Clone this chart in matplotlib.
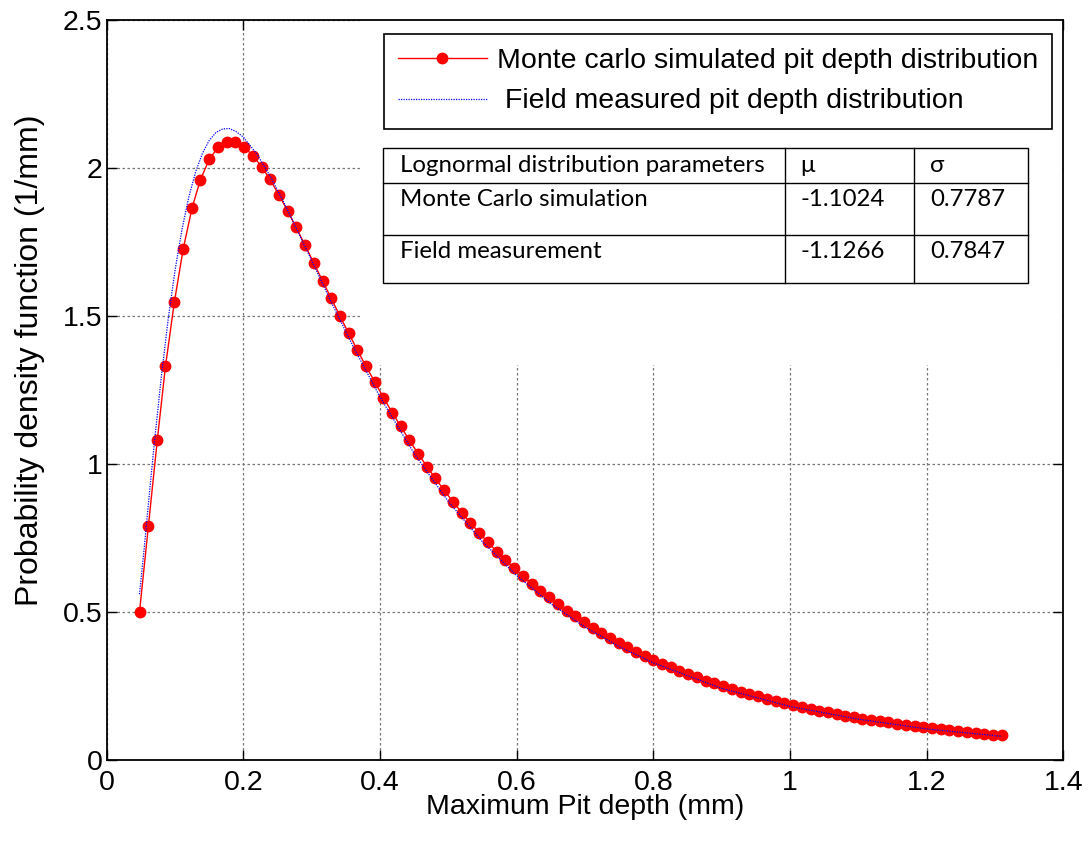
import matplotlib
matplotlib.use("Agg")
import matplotlib.pyplot as plt
from matplotlib.patches import Rectangle
from matplotlib.lines import Line2D

plt.rcParams['font.family'] = ['Liberation Sans', 'DejaVu Sans']

# Monte Carlo simulated pdf (red markers)
x_mc = [0.048, 0.061, 0.074, 0.086, 0.099, 0.112, 0.125, 0.137, 0.150, 0.163,
        0.176, 0.188, 0.201, 0.214, 0.227, 0.239, 0.252, 0.265, 0.277, 0.290,
        0.303, 0.316, 0.328, 0.341, 0.354, 0.367, 0.379, 0.392, 0.405, 0.418,
        0.430, 0.443, 0.456, 0.469, 0.481, 0.494, 0.507, 0.520, 0.532, 0.545,
        0.558, 0.571, 0.583, 0.596, 0.609, 0.622, 0.634, 0.647, 0.660, 0.673,
        0.685, 0.698, 0.711, 0.724, 0.736, 0.749, 0.762, 0.775, 0.787, 0.800,
        0.813, 0.826, 0.838, 0.851, 0.864, 0.877, 0.889, 0.902, 0.915, 0.928,
        0.940, 0.953, 0.966, 0.979, 0.991, 1.004, 1.017, 1.030, 1.042, 1.055,
        1.068, 1.081, 1.093, 1.106, 1.119, 1.132, 1.144, 1.157, 1.170, 1.183,
        1.195, 1.208, 1.221, 1.233, 1.246, 1.259, 1.272, 1.284, 1.297, 1.310]
y_mc = [0.500, 0.790, 1.080, 1.330, 1.547, 1.727, 1.866, 1.959, 2.029, 2.070,
        2.088, 2.087, 2.070, 2.042, 2.003, 1.961, 1.909, 1.854, 1.800, 1.740,
        1.679, 1.618, 1.562, 1.501, 1.442, 1.384, 1.332, 1.278, 1.224, 1.173,
        1.128, 1.080, 1.034, 0.990, 0.951, 0.911, 0.872, 0.835, 0.802, 0.768,
        0.735, 0.704, 0.677, 0.648, 0.621, 0.595, 0.572, 0.549, 0.526, 0.504,
        0.485, 0.466, 0.447, 0.429, 0.413, 0.396, 0.381, 0.366, 0.352, 0.339,
        0.325, 0.313, 0.302, 0.290, 0.279, 0.268, 0.259, 0.249, 0.240, 0.231,
        0.223, 0.215, 0.207, 0.200, 0.193, 0.186, 0.179, 0.173, 0.167, 0.161,
        0.156, 0.150, 0.146, 0.140, 0.136, 0.131, 0.127, 0.123, 0.118, 0.114,
        0.111, 0.107, 0.104, 0.101, 0.097, 0.094, 0.091, 0.088, 0.086, 0.083]

# field measured pdf (blue dotted line)
x_field = [0.048, 0.055, 0.062, 0.07, 0.08, 0.09, 0.10, 0.11, 0.12, 0.13,
           0.14, 0.15, 0.16, 0.17, 0.18, 0.19, 0.20, 0.22, 0.24, 0.26,
           0.28, 0.30, 0.33, 0.36, 0.40, 0.45, 0.50, 0.55, 0.60, 0.65,
           0.70, 0.75, 0.80, 0.90, 1.00, 1.10, 1.20, 1.31]
y_field = [0.560, 0.718, 0.889, 1.078, 1.296, 1.490, 1.654, 1.790, 1.900, 1.986,
           2.049, 2.093, 2.120, 2.132, 2.133, 2.122, 2.104, 2.046, 1.969, 1.880,
           1.784, 1.687, 1.540, 1.400, 1.226, 1.035, 0.873, 0.737, 0.623, 0.528,
           0.449, 0.383, 0.328, 0.242, 0.181, 0.138, 0.105, 0.080]

legend_labels = ["Monte carlo simulated pit depth distribution",
                 " Field measured pit depth distribution"]

table_rows = [["Lognormal distribution parameters", "\u03bc", "\u03c3"],
              ["Monte Carlo simulation", "-1.1024", "0.7787"],
              ["Field measurement", "-1.1266", "0.7847"]]

W, H = 1091, 841
fig = plt.figure(figsize=(W / 100, H / 100), dpi=100)
ax = fig.add_axes([0.0978, 0.0963, 0.8769, 0.880])

ax.plot(x_mc, y_mc, color="red", lw=1.0, marker="o", markersize=7.5,
        markerfacecolor="red", markeredgecolor="red", zorder=3)
ax.plot(x_field, y_field, color="blue", lw=0.9, linestyle=(0, (1, 1)), zorder=4)

ax.set_xlim(0, 1.4)
ax.set_ylim(0, 2.5)
ax.set_xticks([0, 0.2, 0.4, 0.6, 0.8, 1, 1.2, 1.4])
ax.set_xticklabels(["0", "0.2", "0.4", "0.6", "0.8", "1", "1.2", "1.4"])
ax.set_yticks([0, 0.5, 1, 1.5, 2, 2.5])
ax.set_yticklabels(["0", "0.5", "1", "1.5", "2", "2.5"])
ax.tick_params(direction="in", top=True, right=True, length=7, width=1,
               labelsize=20.5)
ax.tick_params(axis="x", pad=7)
ax.tick_params(axis="y", pad=3)
ax.grid(True, color="#777777", linestyle=(0, (2, 2)), lw=0.9)
ax.set_axisbelow(True)
for s in ax.spines.values():
    s.set_linewidth(1.3)

# white area behind legend and table hides the grid there
ax.add_patch(Rectangle((0.371, 1.335), 1.03, 1.2, facecolor="white",
                       edgecolor="none", zorder=1))

ax.set_xlabel("Maximum Pit depth (mm)", fontsize=20.5, labelpad=-1)
ax.set_ylabel("Probability density function (1/mm)", fontsize=23)
ax.yaxis.set_label_coords(-0.064, 0.54)

handles = [Line2D([], [], color="red", lw=1.0, marker="o", markersize=7.5),
           Line2D([], [], color="blue", lw=0.9, linestyle=(0, (1, 1)))]
leg = ax.legend(handles, legend_labels, loc="upper right",
                bbox_to_anchor=(1052 / W, 1 - 34 / H),
                bbox_transform=fig.transFigure, fontsize=20.5, frameon=True,
                fancybox=False, edgecolor="black", framealpha=1,
                handlelength=3.1, handletextpad=0.35, borderpad=0.5,
                labelspacing=0.5, borderaxespad=0)
leg.get_frame().set_linewidth(1.2)
leg.set_zorder(10)


def fx(px):
    return px / W


def fy(py):
    return 1 - py / H


# parameter table
col_x = [383, 785, 914, 1028]
row_y = [148, 183, 235, 283]
text_x = [400, 800, 930]
text_y = [166, 199, 251]
fig.add_artist(Rectangle((fx(col_x[0]), fy(row_y[-1])),
                         fx(col_x[-1]) - fx(col_x[0]), fy(row_y[0]) - fy(row_y[-1]),
                         transform=fig.transFigure, facecolor="white",
                         edgecolor="black", lw=1.0, zorder=11))
for cx in col_x[1:-1]:
    fig.add_artist(Line2D([fx(cx), fx(cx)], [fy(row_y[0]), fy(row_y[-1])],
                          transform=fig.transFigure, color="black", lw=1.0, zorder=12))
for ry in row_y[1:-1]:
    fig.add_artist(Line2D([fx(col_x[0]), fx(col_x[-1])], [fy(ry), fy(ry)],
                          transform=fig.transFigure, color="black", lw=1.0, zorder=12))
for r, row in enumerate(table_rows):
    for c, txt in enumerate(row):
        fig.text(fx(text_x[c]), fy(text_y[r]), txt, fontsize=17.3,
                 family=["Lato", "DejaVu Sans"], ha="left", va="center", zorder=13)

fig.savefig("out.png", dpi=100)
